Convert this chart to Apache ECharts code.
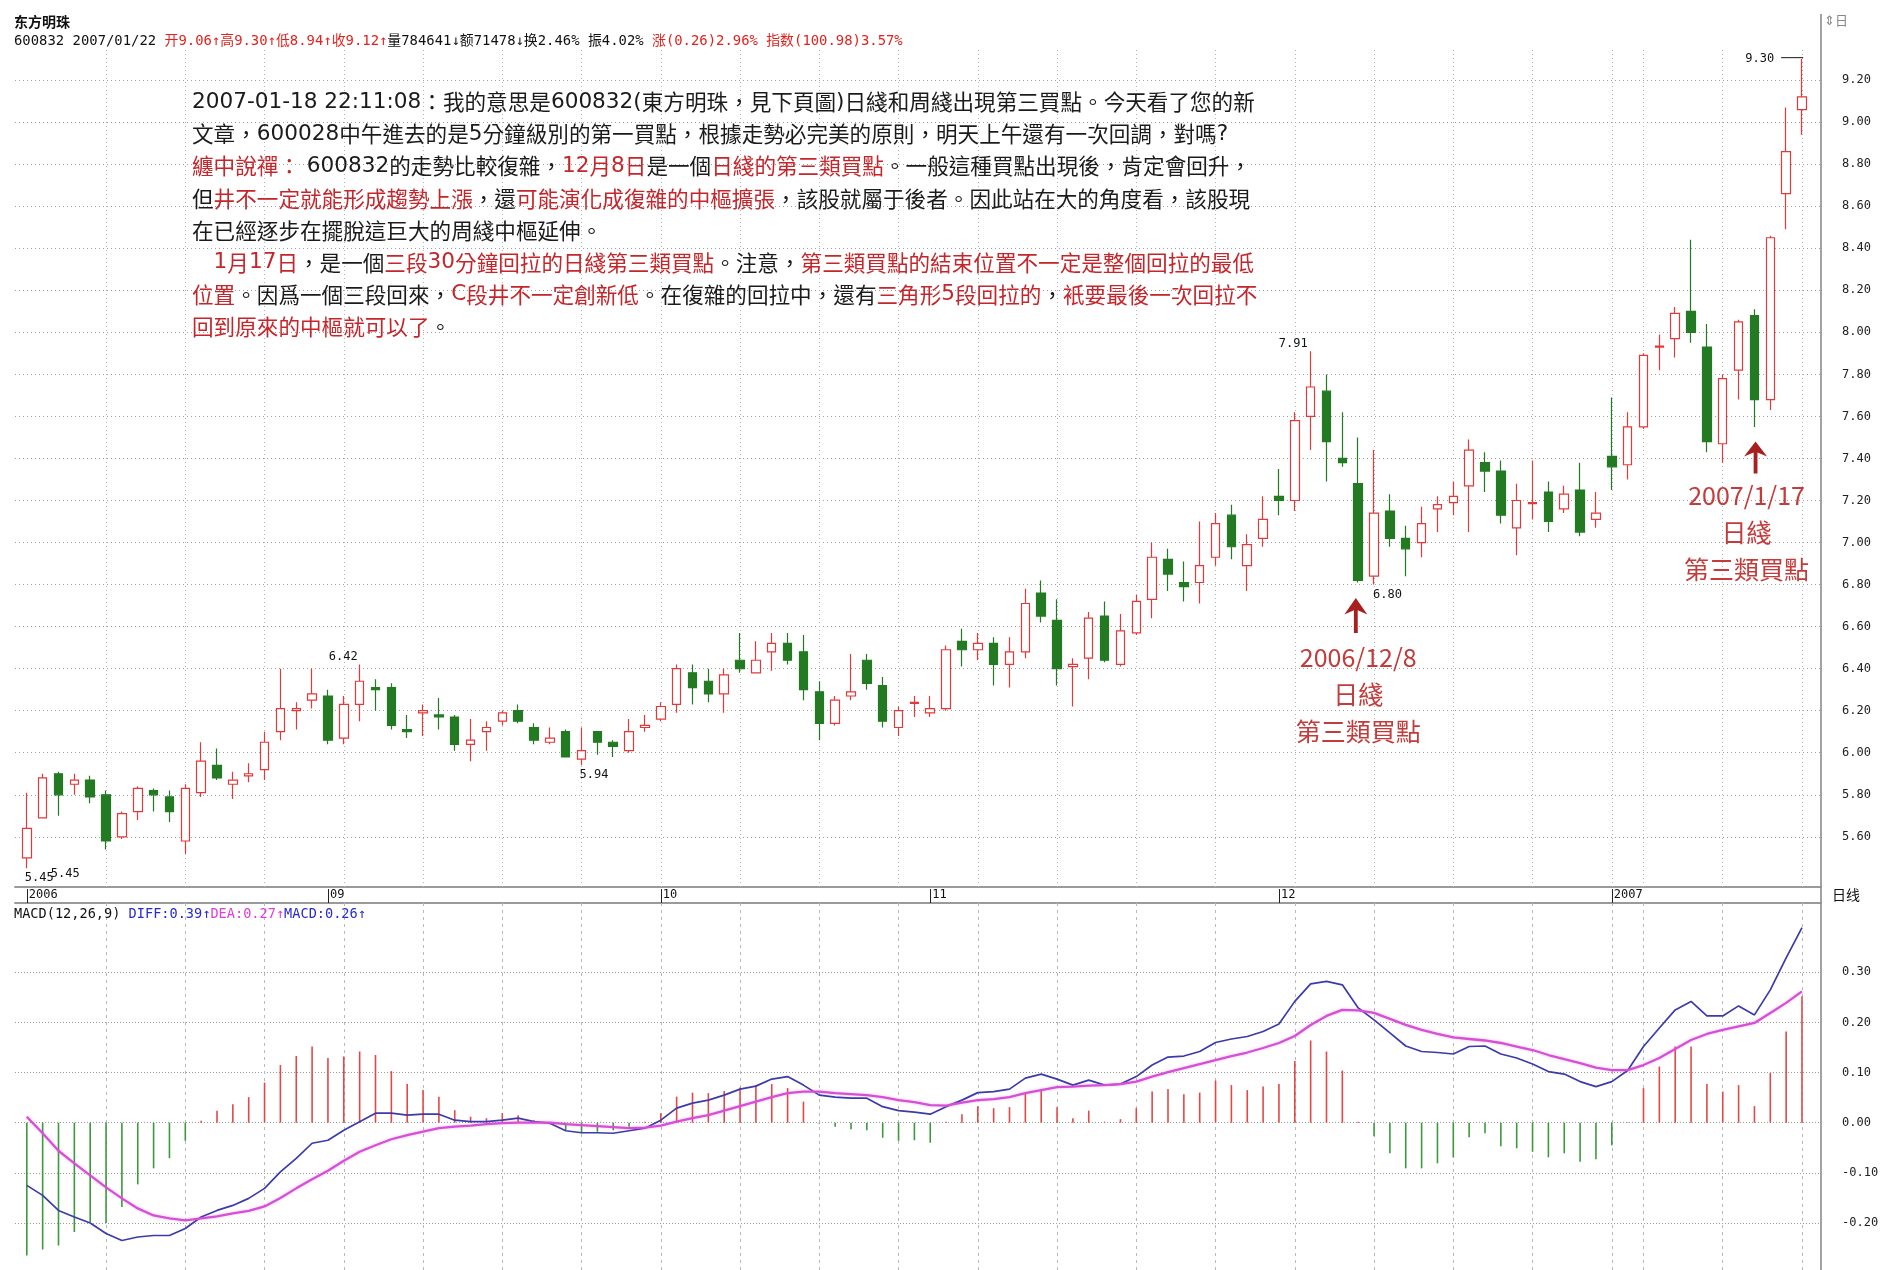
<!DOCTYPE html>
<html>
<head>
<meta charset="utf-8">
<title>东方明珠 600832 日线</title>
<script src="https://cdn.jsdelivr.net/npm/echarts@6.0.0/dist/echarts.min.js"></script>
<style>
html,body{margin:0;padding:0;background:#ffffff;}
#chart{width:1880px;height:1270px;}
</style>
</head>
<body>
<div id="chart"></div>
<script>
// ===================== DATA =====================
const stockName = '东方明珠';
// trading days shown (year, month, days)
const monthDays = [
  ['2006', '08', [7,8,9,10,11,14,15,16,17,18,21,22,23,24,25,28,29,30,31]],
  ['2006', '09', [1,4,5,6,7,8,11,12,13,14,15,18,19,20,21,22,25,26,27,28,29]],
  ['2006', '10', [9,10,11,12,13,16,17,18,19,20,23,24,25,26,27,30,31]],
  ['2006', '11', [1,2,3,6,7,8,9,10,13,14,15,16,17,20,21,22,23,24,27,28,29,30]],
  ['2006', '12', [1,4,5,6,7,8,11,12,13,14,15,18,19,20,21,22,25,26,27,28,29]],
  ['2007', '01', [4,5,8,9,10,11,12,15,16,17,18,19,22]]
];
const opens = [
  5.50,5.69,5.90,5.85,5.87,5.80,5.60,5.72,5.82,5.79,
  5.58,5.81,5.94,5.85,5.89,5.92,6.10,6.20,6.25,6.27,
  6.07,6.23,6.31,6.31,6.11,6.19,6.18,6.17,6.04,6.10,
  6.15,6.20,6.12,6.05,6.10,5.97,6.10,6.05,6.01,6.12,
  6.16,6.23,6.38,6.34,6.28,6.44,6.38,6.48,6.52,6.48,
  6.29,6.14,6.27,6.44,6.32,6.12,6.235,6.19,6.21,6.53,
  6.49,6.52,6.42,6.48,6.76,6.63,6.41,6.45,6.65,6.42,
  6.57,6.73,6.92,6.81,6.81,6.93,7.13,6.89,7.02,7.22,
  7.20,7.60,7.72,7.40,7.28,6.84,7.15,7.02,7.00,7.16,
  7.19,7.27,7.38,7.34,7.07,7.185,7.24,7.16,7.25,7.11,
  7.41,7.37,7.55,7.93,7.97,8.10,7.93,7.47,7.82,8.08,
  7.68,8.66,9.06
];
const closes = [
  5.64,5.88,5.80,5.87,5.79,5.58,5.71,5.83,5.80,5.72,
  5.83,5.96,5.88,5.87,5.90,6.05,6.21,6.21,6.28,6.06,
  6.23,6.34,6.30,6.13,6.10,6.20,6.17,6.04,6.06,6.12,
  6.19,6.15,6.06,6.07,5.98,6.01,6.05,6.03,6.10,6.13,
  6.22,6.40,6.31,6.28,6.37,6.40,6.44,6.52,6.44,6.30,
  6.14,6.25,6.29,6.33,6.15,6.20,6.24,6.21,6.49,6.49,
  6.52,6.42,6.48,6.71,6.65,6.40,6.42,6.64,6.44,6.58,
  6.72,6.93,6.85,6.79,6.89,7.09,6.98,6.99,7.11,7.20,
  7.58,7.74,7.48,7.38,6.82,7.14,7.02,6.97,7.09,7.18,
  7.22,7.44,7.34,7.13,7.20,7.19,7.10,7.23,7.05,7.14,
  7.36,7.55,7.89,7.935,8.09,8.00,7.48,7.78,8.05,7.68,
  8.45,8.86,9.12
];
const lows = [
  5.45,5.69,5.70,5.80,5.76,5.54,5.59,5.68,5.72,5.67,
  5.52,5.79,5.87,5.78,5.86,5.87,6.06,6.11,6.21,6.04,
  6.04,6.15,6.20,6.11,6.07,6.08,6.11,6.01,5.96,6.01,
  6.13,6.14,6.04,6.04,5.98,5.94,5.99,5.98,6.00,6.10,
  6.15,6.19,6.23,6.24,6.19,6.38,6.38,6.39,6.42,6.25,
  6.06,6.13,6.25,6.30,6.12,6.08,6.17,6.17,6.20,6.41,
  6.44,6.32,6.31,6.45,6.62,6.32,6.22,6.35,6.43,6.41,
  6.56,6.64,6.77,6.72,6.71,6.89,6.92,6.77,6.98,7.13,
  7.15,7.44,7.29,7.36,6.81,6.80,6.98,6.84,6.93,7.05,
  7.13,7.05,7.24,7.09,6.94,7.11,7.05,7.14,7.03,7.07,
  7.25,7.30,7.54,7.82,7.88,7.95,7.43,7.38,7.68,7.55,
  7.63,8.49,8.94
];
const highs = [
  5.81,5.90,5.91,5.90,5.89,5.82,5.72,5.84,5.83,5.82,
  5.85,6.05,6.02,5.91,5.95,6.10,6.40,6.24,6.40,6.30,
  6.27,6.42,6.35,6.33,6.18,6.23,6.26,6.18,6.16,6.15,
  6.20,6.23,6.14,6.12,6.11,6.12,6.10,6.06,6.16,6.18,
  6.24,6.42,6.42,6.40,6.40,6.57,6.53,6.57,6.57,6.56,
  6.34,6.27,6.47,6.47,6.36,6.22,6.27,6.27,6.51,6.59,
  6.57,6.55,6.55,6.78,6.82,6.73,6.45,6.67,6.72,6.66,
  6.75,7.00,6.97,6.91,7.10,7.14,7.18,7.04,7.22,7.35,
  7.62,7.91,7.80,7.62,7.50,7.44,7.23,7.08,7.17,7.22,
  7.29,7.49,7.43,7.39,7.28,7.39,7.29,7.27,7.38,7.24,
  7.69,7.62,7.90,7.99,8.12,8.44,8.04,7.80,8.06,8.11,
  8.46,9.07,9.30
];
const macdDiff = [
  -0.125,-0.145,-0.175,-0.188,-0.200,-0.221,-0.235,-0.228,-0.225,-0.225,
  -0.211,-0.188,-0.175,-0.165,-0.151,-0.131,-0.098,-0.071,-0.041,-0.035,
  -0.015,0.002,0.019,0.019,0.015,0.017,0.017,0.005,0.002,0.002,
  0.005,0.009,0.002,-0.001,-0.016,-0.020,-0.020,-0.021,-0.016,-0.011,
  0.005,0.029,0.039,0.045,0.055,0.067,0.073,0.087,0.092,0.075,
  0.055,0.051,0.049,0.049,0.032,0.024,0.021,0.017,0.032,0.045,
  0.060,0.062,0.067,0.089,0.097,0.087,0.075,0.085,0.075,0.077,
  0.092,0.115,0.131,0.133,0.142,0.160,0.167,0.172,0.182,0.197,
  0.242,0.277,0.282,0.275,0.229,0.205,0.179,0.153,0.142,0.140,
  0.137,0.152,0.153,0.137,0.129,0.117,0.102,0.097,0.082,0.072,
  0.082,0.104,0.152,0.189,0.225,0.242,0.213,0.213,0.233,0.215,
  0.265,0.329,0.389
];
const macdDea = [
  0.012,-0.021,-0.056,-0.081,-0.105,-0.129,-0.151,-0.171,-0.185,-0.191,
  -0.195,-0.191,-0.187,-0.181,-0.176,-0.167,-0.150,-0.131,-0.113,-0.096,
  -0.076,-0.058,-0.045,-0.033,-0.025,-0.018,-0.011,-0.008,-0.006,-0.003,
  -0.001,0.000,0.000,0.000,-0.003,-0.005,-0.007,-0.009,-0.011,-0.010,
  -0.006,0.002,0.009,0.015,0.024,0.033,0.042,0.051,0.059,0.062,
  0.062,0.059,0.057,0.055,0.051,0.045,0.041,0.035,0.034,0.040,
  0.045,0.047,0.051,0.059,0.065,0.071,0.072,0.074,0.075,0.077,
  0.082,0.092,0.101,0.109,0.117,0.125,0.133,0.140,0.149,0.159,
  0.173,0.195,0.213,0.225,0.224,0.219,0.207,0.195,0.185,0.177,
  0.170,0.167,0.164,0.159,0.152,0.145,0.135,0.127,0.119,0.110,
  0.105,0.105,0.115,0.129,0.147,0.165,0.177,0.185,0.192,0.199,
  0.219,0.239,0.262
];
const macdHist = [
  -0.265,-0.253,-0.245,-0.218,-0.198,-0.200,-0.168,-0.123,-0.091,-0.071,
  -0.036,0.004,0.024,0.037,0.051,0.080,0.115,0.133,0.152,0.129,
  0.132,0.142,0.135,0.103,0.077,0.065,0.052,0.025,0.012,0.009,
  0.019,0.015,0.005,-0.003,-0.015,-0.021,-0.018,-0.015,-0.008,0.002,
  0.019,0.052,0.060,0.059,0.063,0.070,0.075,0.077,0.069,0.042,
  -0.002,-0.008,-0.013,-0.015,-0.030,-0.036,-0.035,-0.040,0.002,0.017,
  0.033,0.029,0.031,0.059,0.065,0.031,0.009,0.024,0.002,0.007,
  0.029,0.062,0.067,0.057,0.060,0.084,0.075,0.065,0.072,0.077,
  0.123,0.164,0.142,0.104,0.002,-0.027,-0.061,-0.091,-0.091,-0.081,
  -0.069,-0.029,-0.021,-0.047,-0.051,-0.058,-0.069,-0.061,-0.078,-0.073,
  -0.045,0.001,0.069,0.112,0.152,0.152,0.077,0.062,0.075,0.033,
  0.099,0.182,0.252
];
const priceTicks = [5.6,5.8,6.0,6.2,6.4,6.6,6.8,7.0,7.2,7.4,7.6,7.8,8.0,8.2,8.4,8.6,8.8,9.0,9.2];
const macdTicks = [-0.2,-0.1,0,0.1,0.2,0.3];
const gridIdx = [5,10,15,20,25,30,35,40,45,50,55,60,65,70,75,80,85,90,95,100,102,107,112];
const extremeMarks = [[0,5.45,'5.45'],[0,5.45,'5.45'],[21,6.42,'6.42'],[35,5.94,'5.94'],[81,7.91,'7.91'],[85,6.80,'6.80'],[112,9.30,'9.30 ───']];
const headerLine = [['k','600832 2007/01/22 '],['r','开9.06↑高9.30↑低8.94↑收9.12↑'],['k','量784641↓额71478↓换2.46% 振4.02% '],['r','涨(0.26)2.96% 指数(100.98)3.57%']];
const macdHeader = [['k','MACD(12,26,9) '],['b','DIFF:0.39↑'],['m','DEA:0.27↑'],['b','MACD:0.26↑']];
const noteLines = [
  [['k','2007-01-18 22:11:08：我的意思是600832(東方明珠，見下頁圖)日綫和周綫出現第三買點。今天看了您的新']],
  [['k','文章，600028中午進去的是5分鐘級別的第一買點，根據走勢必完美的原則，明天上午還有一次回調，對嗎?']],
  [['r','纏中說禪：'],['k',' 600832的走勢比較復雜，'],['r','12月8日'],['k','是一個'],['r','日綫的第三類買點'],['k','。一般這種買點出現後，肯定會回升，']],
  [['k','但'],['r','井不一定就能形成趨勢上漲'],['k','，還'],['r','可能演化成復雜的中樞擴張'],['k','，該股就屬于後者。因此站在大的角度看，該股現']],
  [['k','在已經逐步在擺脫這巨大的周綫中樞延伸。']],
  [['k','　'],['r','1月17日'],['k','，是一個'],['r','三段30分鐘回拉的日綫第三類買點'],['k','。注意，'],['r','第三類買點的結束位置不一定是整個回拉的最低']],
  [['r','位置'],['k','。因爲一個三段回來，'],['r','C段井不一定創新低'],['k','。在復雜的回拉中，還有'],['r','三角形5段回拉的'],['k','，'],['r','衹要最後一次回拉不']],
  [['r','回到原來的中樞就可以了'],['k','。']]
];
const calloutTexts = ['2006/12/8\n日綫\n第三類買點', '2007/1/17\n日綫\n第三類買點'];

// ===================== BUILD =====================
const dates = [], monthLabel = {};
monthDays.forEach(([y, m, days], k) => {
  days.forEach((d, j) => {
    if (j === 0) monthLabel[dates.length] = (k === 0 || y !== monthDays[k-1][0]) ? y : m;
    dates.push(y + '/' + m + '/' + String(d).padStart(2, '0'));
  });
});
const candleData = opens.map((o, i) => [i, o, closes[i], lows[i], highs[i]]);
const histData = macdHist.map((v, i) => [i, v]);
const diffData = macdDiff.map((v, i) => [i, v]);
const deaData = macdDea.map((v, i) => [i, v]);

// layout (pixels)
const X0 = 26.8, DX = 15.85, L = 15, R = 1821;
const xMin = (L - X0) / DX, xMax = (R - X0) / DX;
const PY0 = 80.1, PK = 210.2, P_TOP = 48, P_BOT = 887;
const pMax = 9.2 + (PY0 - P_TOP) / PK, pMin = 9.2 - (P_BOT - PY0) / PK;
const MY0 = 1122.7, MK = 501.3, M_TOP = 903, M_BOT = 1270;
const mMax = (MY0 - M_TOP) / MK, mMin = -(M_BOT - MY0) / MK;

const mono = "'DejaVu Sans Mono','Liberation Mono','Noto Sans CJK SC',monospace";
const tc = "'Noto Sans CJK TC','Noto Sans CJK SC','Noto Sans',sans-serif";
const sc = "'Noto Sans CJK SC','Noto Sans',sans-serif";
const latin = "'DejaVu Sans','Noto Sans',sans-serif";

function rich(segs) { return segs.map(([k, t]) => '{' + k + '|' + t + '}').join(''); }
// split runs: ASCII text uses a wider latin face (style key + 'a')
function richSplit(segs) {
  let out = '';
  segs.forEach(([k, t]) => {
    const runs = t.match(/[\x20-\x7e]+|[^\x20-\x7e]+/g) || [];
    runs.forEach(run => {
      const isAscii = /^[\x20-\x7e]+$/.test(run);
      out += '{' + k + (isAscii ? 'a' : '') + '|' + run + '}';
    });
  });
  return out;
}

const HF = 13.9, MF = 13.6;
const graphics = [
  {type:'text', x:14, y:22, z:10, style:{text:stockName, font:'bold 14px ' + sc, fill:'#111', verticalAlign:'middle'}},
  {type:'text', x:14, y:41, z:10, style:{text:rich(headerLine), verticalAlign:'middle',
    rich:{k:{fill:'#111', color:'#111', fontSize:HF, fontFamily:mono}, r:{fill:'#e3221e', color:'#e3221e', fontSize:HF, fontFamily:mono}}}},
  {type:'text', x:14, y:914, z:10, style:{text:rich(macdHeader), verticalAlign:'middle',
    rich:{k:{fill:'#111', color:'#111', fontSize:MF, fontFamily:mono}, b:{fill:'#2a2ad2', color:'#2a2ad2', fontSize:MF, fontFamily:mono}, m:{fill:'#e03ce0', color:'#e03ce0', fontSize:MF, fontFamily:mono}}}},
  {type:'line', z:10, shape:{x1:R, y1:14, x2:R, y2:1270}, style:{stroke:'#8c8c8c', lineWidth:1.6}},
  {type:'text', x:1824, y:20, z:10, style:{text:'⇕日', font:'13px ' + sc, fill:'#888', verticalAlign:'middle'}},
  {type:'text', x:1832, y:895, z:10, style:{text:'日线', font:'14px ' + sc, fill:'#111', verticalAlign:'middle'}}
];
const NF = 21.6;
const noteRich = {
  k:{fill:'#1b1b1b', color:'#1b1b1b', fontSize:NF, fontFamily:tc},
  r:{fill:'#c4262b', color:'#c4262b', fontSize:NF, fontFamily:tc},
  ka:{fill:'#1b1b1b', color:'#1b1b1b', fontSize:NF, fontFamily:latin},
  ra:{fill:'#c4262b', color:'#c4262b', fontSize:NF, fontFamily:latin}
};
noteLines.forEach((segs, i) => graphics.push({
  type:'text', x:192, y:102 + i * 32.1, z:10,
  style:{text:richSplit(segs), verticalAlign:'middle', rich:noteRich}
}));

// annotation placement for extreme labels
const extremePlace = [
  {position:[-2, 4], align:'left', verticalAlign:'top'},
  {position:[24, 0], align:'left', verticalAlign:'top'},
  {position:[-2, -2], align:'right', verticalAlign:'bottom'},
  {position:[-2, 4], align:'left', verticalAlign:'top'},
  {position:[-3, -1], align:'right', verticalAlign:'bottom'},
  {position:[-1, 4], align:'left', verticalAlign:'top'},
  {position:[1, 0], align:'right', verticalAlign:'middle'}
];
const markPoints = extremeMarks.map(([i, v, t], k) => ({
  coord:[i, v], symbol:'circle', symbolSize:0, itemStyle:{color:'transparent'},
  label:Object.assign({show:true, formatter:t, color:'#111', fontFamily:mono, fontSize:12}, extremePlace[k])
}));
const calloutCoords = [[84, 6.275], [108.5, 7.05]];
calloutTexts.forEach((t, k) => markPoints.push({
  coord:calloutCoords[k], symbol:'circle', symbolSize:0, itemStyle:{color:'transparent'},
  label:{show:true, formatter:t, position:'inside', align:'center', verticalAlign:'middle', color:'#c43b3b', fontFamily:tc, fontSize:25, lineHeight:37}
}));
const arrowPath = 'path://M12,0 L24,17 L14,12.5 L14,36 L10,36 L10,12.5 L0,17 Z';
markPoints.push({coord:[83.85, 6.653], symbol:arrowPath, symbolSize:[23, 35], itemStyle:{color:'#a81f1f'}, label:{show:false}});
markPoints.push({coord:[109.07, 7.405], symbol:arrowPath, symbolSize:[23, 32], itemStyle:{color:'#a81f1f'}, label:{show:false}});

const axisNum = {show:true, position:'end', distance:21, formatter:p => Number(p.value).toFixed(2), color:'#222', fontFamily:mono, fontSize:12};

const option = {
  animation:false,
  backgroundColor:'#ffffff',
  graphic:graphics,
  grid:[
    {left:L, right:1880 - R, top:P_TOP, height:P_BOT - P_TOP},
    {left:X0 - DX / 2, width:DX * dates.length, top:P_BOT, height:M_TOP - P_BOT},
    {left:L, right:1880 - R, top:M_TOP, height:M_BOT - M_TOP}
  ],
  xAxis:[
    {type:'value', gridIndex:0, min:xMin, max:xMax, position:'bottom',
     axisLine:{show:true, onZero:false, lineStyle:{color:'#9a9a9a', width:2}},
     axisTick:{show:false}, axisLabel:{show:false}, splitLine:{show:false}},
    {type:'category', gridIndex:1, data:dates, position:'bottom', boundaryGap:true,
     axisLine:{show:false, onZero:false},
     axisTick:{show:true, inside:true, alignWithLabel:true, length:14, interval:(i) => (i in monthLabel), lineStyle:{color:'#222', width:1}},
     axisLabel:{show:true, inside:true, interval:(i) => (i in monthLabel), formatter:(v, i) => monthLabel[i] || '',
       align:'left', verticalAlign:'bottom', margin:2, padding:[0,0,0,2], color:'#111', fontFamily:mono, fontSize:12},
     splitLine:{show:false}},
    {type:'value', gridIndex:2, min:xMin, max:xMax, position:'top',
     axisLine:{show:true, onZero:false, lineStyle:{color:'#9a9a9a', width:2}},
     axisTick:{show:false}, axisLabel:{show:false}, splitLine:{show:false}}
  ],
  yAxis:[
    {type:'value', gridIndex:0, position:'right', min:pMin, max:pMax, scale:true,
     axisLine:{show:false}, axisTick:{show:false}, axisLabel:{show:false}, splitLine:{show:false}},
    {type:'value', gridIndex:1, min:0, max:1, show:false},
    {type:'value', gridIndex:2, position:'right', min:mMin, max:mMax,
     axisLine:{show:false}, axisTick:{show:false}, axisLabel:{show:false}, splitLine:{show:false}}
  ],
  series:[
    {name:'日线', type:'candlestick', xAxisIndex:0, yAxisIndex:0, data:candleData,
     encode:{x:0, y:[1,2,3,4]}, barWidth:9, clip:false, z:2,
     itemStyle:{color:'#ffffff', color0:'#237a23', borderColor:'#e23a3a', borderColor0:'#237a23', borderWidth:1.2},
     markLine:{silent:true, symbol:['none','none'], z:1, animation:false, label:axisNum,
       lineStyle:{type:[1,3], color:'#a0a0a0', width:1},
       data:priceTicks.map(v => ({yAxis:v})).concat(gridIdx.map(i => ({xAxis:i, label:{show:false}, lineStyle:{type:[1,3], color:'#b4b4b4', width:1}})))},
     markPoint:{silent:true, animation:false, z:6, data:markPoints}
    },
    {name:'MACD', type:'bar', xAxisIndex:2, yAxisIndex:2, data:histData, barWidth:1.6, z:2,
     itemStyle:{color:p => (p.value[1] >= 0 ? '#e34848' : '#3b9a3b')},
     markLine:{silent:true, symbol:['none','none'], z:1, animation:false, label:axisNum,
       lineStyle:{type:[1,2], color:'#9a9a9a', width:1},
       data:macdTicks.map(v => ({yAxis:v})).concat(gridIdx.map(i => ({xAxis:i, label:{show:false}, lineStyle:{type:[3,4], color:'#b8b8b8', width:1}})))}
    },
    {name:'DIFF', type:'line', xAxisIndex:2, yAxisIndex:2, data:diffData, symbol:'none', z:3,
     lineStyle:{color:'#3b3bab', width:1.7}},
    {name:'DEA', type:'line', xAxisIndex:2, yAxisIndex:2, data:deaData, symbol:'none', z:3,
     lineStyle:{color:'#d64fd6', width:2.3, shadowColor:'rgba(214,79,214,0.35)', shadowBlur:3}}
  ]
};

const chart = echarts.init(document.getElementById('chart'), null, {renderer:'canvas', width:1880, height:1270});
chart.setOption(option);
</script>
</body>
</html>
